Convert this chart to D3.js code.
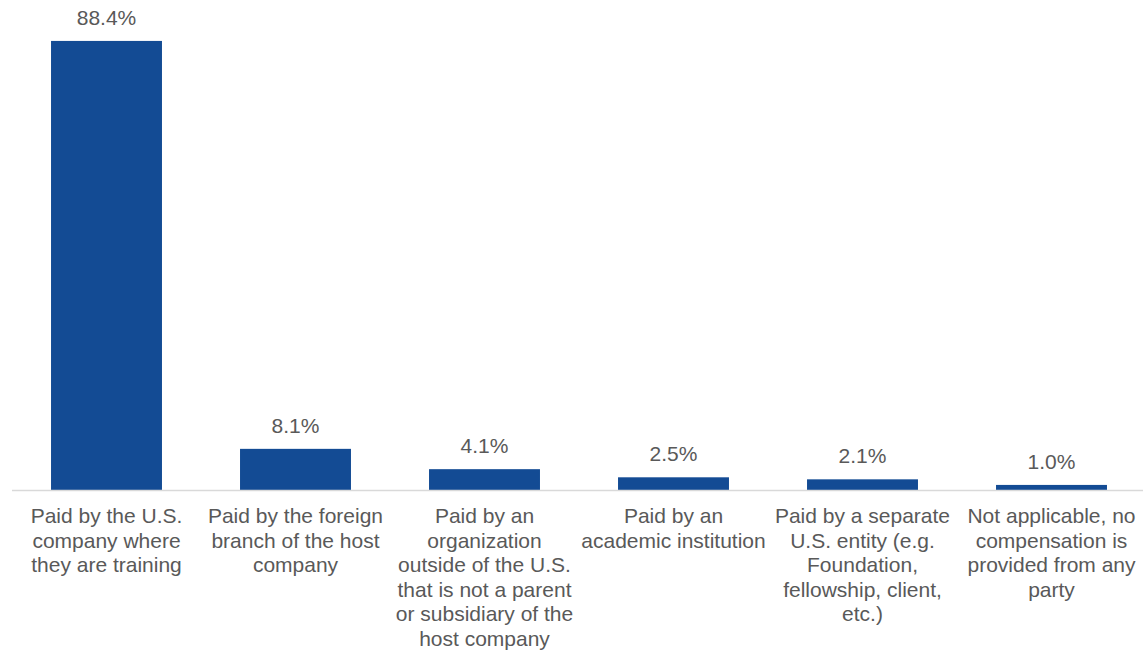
<!DOCTYPE html>
<html>
<head>
<meta charset="utf-8">
<script src="https://cdn.jsdelivr.net/npm/d3@7"></script>
<style>
  html, body { margin: 0; padding: 0; background: #fff; }
  svg { display: block; }
  text { font-family: "Liberation Sans", Arial, sans-serif; fill: #595959; }
</style>
</head>
<body>
<svg id="chart" width="1143" height="651"></svg>
<script>
const categories = [
  ["Paid by the U.S.", "company where", "they are training"],
  ["Paid by the foreign", "branch of the host", "company"],
  ["Paid by an", "organization", "outside of the U.S.", "that is not a parent", "or subsidiary of the", "host company"],
  ["Paid by an", "academic institution"],
  ["Paid by a separate", "U.S. entity (e.g.", "Foundation,", "fellowship, client,", "etc.)"],
  ["Not applicable, no", "compensation is", "provided from any", "party"]
];
const values = [88.4, 8.1, 4.1, 2.5, 2.1, 1.0];
const valueLabels = ["88.4%", "8.1%", "4.1%", "2.5%", "2.1%", "1.0%"];

const svg = d3.select("#chart");
const baseline = 490;
const x = d3.scaleBand()
  .domain(d3.range(values.length))
  .range([12, 1146])
  .paddingInner(0.413)
  .paddingOuter(0.2065);
const y = d3.scaleLinear().domain([0, 100]).range([baseline, baseline - 508]);

svg.append("g").selectAll("rect")
  .data(values)
  .join("rect")
  .attr("x", (d, i) => x(i))
  .attr("width", x.bandwidth())
  .attr("y", d => y(d))
  .attr("height", d => y(0) - y(d))
  .attr("fill", "#134B94");

svg.append("line")
  .attr("x1", 12).attr("x2", 1143)
  .attr("y1", baseline + 0.5).attr("y2", baseline + 0.5)
  .attr("stroke", "#D9D9D9").attr("stroke-width", 1.3);

svg.append("g").selectAll("text")
  .data(values)
  .join("text")
  .attr("x", (d, i) => x(i) + x.bandwidth() / 2)
  .attr("y", d => y(d) - 16)
  .attr("text-anchor", "middle")
  .attr("font-size", "21px")
  .text((d, i) => valueLabels[i]);

const lab = svg.append("g").selectAll("text")
  .data(categories)
  .join("text")
  .attr("text-anchor", "middle")
  .attr("font-size", "21px")
  .attr("transform", (d, i) => `translate(${x(i) + x.bandwidth() / 2},${baseline + 33})`);
lab.selectAll("tspan")
  .data(d => d)
  .join("tspan")
  .attr("x", 0)
  .attr("y", (d, j) => j * 24.5)
  .text(d => d);
</script>
</body>
</html>
